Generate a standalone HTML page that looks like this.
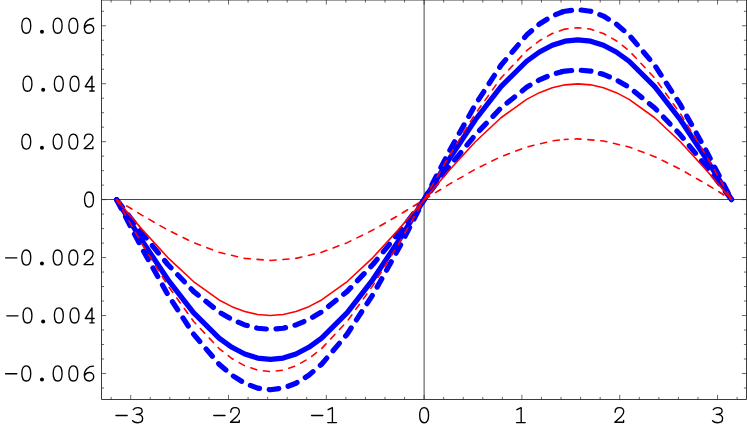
<!DOCTYPE html>
<html><head><meta charset="utf-8"><title>plot</title>
<style>html,body{margin:0;padding:0;background:#fff;}body{width:747px;height:431px;overflow:hidden;position:relative;font-family:"Liberation Mono",monospace;}</style>
</head><body>
<svg width="747" height="431" viewBox="0 0 747 431" style="position:absolute;left:0;top:0">
<rect x="0" y="0" width="747" height="431" fill="#fff"/>
<g stroke="#262626" stroke-width="0.9" fill="none" stroke-linecap="butt">
<path d="M101.5,0.0 H746.5 V399.5 H101.5 Z"/>
<path d="M101.5,199.5 H746.5 M424.12,0.0 V399.5" stroke="#333"/>
<path d="M111.16,399.5 v-2.6 M111.16,0.0 v2.6 M130.72,399.5 v-4.6 M130.72,0.0 v4.6 M150.28,399.5 v-2.6 M150.28,0.0 v2.6 M169.84,399.5 v-2.6 M169.84,0.0 v2.6 M189.40,399.5 v-2.6 M189.40,0.0 v2.6 M208.96,399.5 v-2.6 M208.96,0.0 v2.6 M228.52,399.5 v-4.6 M228.52,0.0 v4.6 M248.08,399.5 v-2.6 M248.08,0.0 v2.6 M267.64,399.5 v-2.6 M267.64,0.0 v2.6 M287.20,399.5 v-2.6 M287.20,0.0 v2.6 M306.76,399.5 v-2.6 M306.76,0.0 v2.6 M326.32,399.5 v-4.6 M326.32,0.0 v4.6 M345.88,399.5 v-2.6 M345.88,0.0 v2.6 M365.44,399.5 v-2.6 M365.44,0.0 v2.6 M385.00,399.5 v-2.6 M385.00,0.0 v2.6 M404.56,399.5 v-2.6 M404.56,0.0 v2.6 M424.12,399.5 v-4.6 M424.12,0.0 v4.6 M443.68,399.5 v-2.6 M443.68,0.0 v2.6 M463.24,399.5 v-2.6 M463.24,0.0 v2.6 M482.80,399.5 v-2.6 M482.80,0.0 v2.6 M502.36,399.5 v-2.6 M502.36,0.0 v2.6 M521.92,399.5 v-4.6 M521.92,0.0 v4.6 M541.48,399.5 v-2.6 M541.48,0.0 v2.6 M561.04,399.5 v-2.6 M561.04,0.0 v2.6 M580.60,399.5 v-2.6 M580.60,0.0 v2.6 M600.16,399.5 v-2.6 M600.16,0.0 v2.6 M619.72,399.5 v-4.6 M619.72,0.0 v4.6 M639.28,399.5 v-2.6 M639.28,0.0 v2.6 M658.84,399.5 v-2.6 M658.84,0.0 v2.6 M678.40,399.5 v-2.6 M678.40,0.0 v2.6 M697.96,399.5 v-2.6 M697.96,0.0 v2.6 M717.52,399.5 v-4.6 M717.52,0.0 v4.6 M737.08,399.5 v-2.6 M737.08,0.0 v2.6 M101.5,387.96 h2.6 M746.5,387.96 h-2.6 M101.5,373.47 h4.6 M746.5,373.47 h-4.6 M101.5,358.98 h2.6 M746.5,358.98 h-2.6 M101.5,344.50 h2.6 M746.5,344.50 h-2.6 M101.5,330.01 h2.6 M746.5,330.01 h-2.6 M101.5,315.52 h4.6 M746.5,315.52 h-4.6 M101.5,301.03 h2.6 M746.5,301.03 h-2.6 M101.5,286.55 h2.6 M746.5,286.55 h-2.6 M101.5,272.06 h2.6 M746.5,272.06 h-2.6 M101.5,257.57 h4.6 M746.5,257.57 h-4.6 M101.5,243.08 h2.6 M746.5,243.08 h-2.6 M101.5,228.59 h2.6 M746.5,228.59 h-2.6 M101.5,214.11 h2.6 M746.5,214.11 h-2.6 M101.5,199.62 h4.6 M746.5,199.62 h-4.6 M101.5,185.13 h2.6 M746.5,185.13 h-2.6 M101.5,170.65 h2.6 M746.5,170.65 h-2.6 M101.5,156.16 h2.6 M746.5,156.16 h-2.6 M101.5,141.67 h4.6 M746.5,141.67 h-4.6 M101.5,127.18 h2.6 M746.5,127.18 h-2.6 M101.5,112.70 h2.6 M746.5,112.70 h-2.6 M101.5,98.21 h2.6 M746.5,98.21 h-2.6 M101.5,83.72 h4.6 M746.5,83.72 h-4.6 M101.5,69.23 h2.6 M746.5,69.23 h-2.6 M101.5,54.75 h2.6 M746.5,54.75 h-2.6 M101.5,40.26 h2.6 M746.5,40.26 h-2.6 M101.5,25.77 h4.6 M746.5,25.77 h-4.6 M101.5,11.28 h2.6 M746.5,11.28 h-2.6" stroke-width="0.7"/>
</g>
<path d="M116.60,199.65 L142.23,241.01 L167.85,279.55 L193.48,312.65 L219.10,338.04 L231.91,347.29 L244.73,354.01 L257.54,358.09 L270.35,359.45 L283.16,358.09 L295.98,354.01 L308.79,347.29 L321.60,338.04 L347.23,312.65 L372.85,279.55 L398.48,241.01 L424.10,199.65 L449.72,158.29 L475.35,119.75 L500.97,86.65 L526.60,61.26 L539.41,52.01 L552.22,45.29 L565.04,41.21 L577.85,39.85 L590.66,41.21 L603.47,45.29 L616.29,52.01 L629.10,61.26 L654.72,86.65 L680.35,119.75 L705.97,158.29 L731.60,199.65" fill="none" stroke="#0000ff" stroke-width="5.2" stroke-linecap="round" stroke-linejoin="round"/>
<path d="M116.60,199.65 L142.23,248.84 L167.85,294.68 L193.48,334.04 L219.10,364.24 L231.91,375.24 L244.73,383.23 L257.54,388.08 L270.35,389.71 L283.16,388.08 L295.98,383.23 L308.79,375.24 L321.60,364.24 L347.23,334.04 L372.85,294.68 L398.48,248.84 L424.10,199.65 L449.72,150.46 L475.35,104.62 L500.97,65.26 L526.60,35.06 L539.41,24.06 L552.22,16.07 L562.00,12.08" fill="none" stroke="#0000ff" stroke-width="5.2" stroke-linecap="round" stroke-linejoin="round" stroke-dasharray="9.7 9.68" stroke-dashoffset="0"/>
<path d="M562.00,12.08 L565.04,11.22 L577.85,9.59 L590.66,11.22 L603.47,16.07 L616.29,24.06 L629.10,35.06 L654.72,65.26 L680.35,104.62 L705.97,150.46 L731.60,199.65" fill="none" stroke="#0000ff" stroke-width="5.2" stroke-linecap="round" stroke-linejoin="round" stroke-dasharray="9.7 9.68" stroke-dashoffset="0"/>
<path d="M116.60,199.65 L142.23,233.22 L167.85,264.50 L193.48,291.36 L219.10,311.97 L231.91,319.47 L244.73,324.93 L257.54,328.24 L270.35,329.35 L283.16,328.24 L295.98,324.93 L308.79,319.47 L321.60,311.97 L347.23,291.36 L372.85,264.50 L398.48,233.22 L424.10,199.65 L449.72,166.08 L475.35,134.80 L500.97,107.94 L526.60,87.33 L539.41,79.83 L552.22,74.37 L562.00,71.65" fill="none" stroke="#0000ff" stroke-width="5.2" stroke-linecap="round" stroke-linejoin="round" stroke-dasharray="9.7 9.68" stroke-dashoffset="0"/>
<path d="M562.00,71.65 L565.04,71.06 L577.85,69.95 L590.66,71.06 L603.47,74.37 L616.29,79.83 L629.10,87.33 L654.72,107.94 L680.35,134.80 L705.97,166.08 L731.60,199.65" fill="none" stroke="#0000ff" stroke-width="5.2" stroke-linecap="round" stroke-linejoin="round" stroke-dasharray="9.7 9.68" stroke-dashoffset="0"/>
<path d="M116.60,199.65 L142.23,229.62 L167.85,257.55 L193.48,281.53 L219.10,299.94 L231.91,306.64 L244.73,311.50 L257.54,314.46 L270.35,315.45 L283.16,314.46 L295.98,311.50 L308.79,306.64 L321.60,299.94 L347.23,281.53 L372.85,257.55 L398.48,229.62 L424.10,199.65 L449.72,169.68 L475.35,141.75 L500.97,117.77 L526.60,99.36 L539.41,92.66 L552.22,87.80 L565.04,84.84 L577.85,83.85 L590.66,84.84 L603.47,87.80 L616.29,92.66 L629.10,99.36 L654.72,117.77 L680.35,141.75 L705.97,169.68 L731.60,199.65" fill="none" stroke="#ff0000" stroke-width="1.6" stroke-linecap="round" stroke-linejoin="round"/>
<path d="M116.60,199.65 L142.23,244.16 L167.85,285.63 L193.48,321.25 L219.10,348.57 L231.91,358.52 L244.73,365.75 L257.54,370.14 L270.35,371.61 L283.16,370.14 L295.98,365.75 L308.79,358.52 L321.60,348.57 L347.23,321.25 L372.85,285.63 L398.48,244.16 L424.10,199.65 L449.72,155.14 L475.35,113.67 L500.97,78.05 L526.60,50.73 L539.41,40.78 L552.22,33.55 L564.30,29.33" fill="none" stroke="#ff0000" stroke-width="1.6" stroke-linecap="round" stroke-linejoin="round" stroke-dasharray="6.1 6.84" stroke-dashoffset="1.1"/>
<path d="M564.30,29.33 L565.04,29.16 L577.85,27.69 L590.66,29.16 L603.47,33.55 L616.29,40.78 L629.10,50.73 L654.72,78.05 L680.35,113.67 L705.97,155.14 L731.60,199.65" fill="none" stroke="#ff0000" stroke-width="1.6" stroke-linecap="round" stroke-linejoin="round" stroke-dasharray="6.1 6.84" stroke-dashoffset="2.3"/>
<path d="M116.60,199.65 L142.23,215.38 L167.85,230.05 L193.48,242.64 L219.10,252.30 L244.73,258.37 L270.35,260.44 L295.98,258.37 L321.60,252.30 L347.23,242.64 L372.85,230.05 L398.48,215.38 L424.10,199.65 L449.72,183.92 L475.35,169.25 L500.97,156.66 L526.60,147.00 L552.22,140.93 L564.30,139.44" fill="none" stroke="#ff0000" stroke-width="1.6" stroke-linecap="round" stroke-linejoin="round" stroke-dasharray="6.1 6.85" stroke-dashoffset="1.15"/>
<path d="M564.30,139.44 L577.85,138.86 L603.47,140.93 L629.10,147.00 L654.72,156.66 L680.35,169.25 L705.97,183.92 L731.60,199.65" fill="none" stroke="#ff0000" stroke-width="1.6" stroke-linecap="round" stroke-linejoin="round" stroke-dasharray="6.1 6.85" stroke-dashoffset="2.3"/>
<g fill="none" stroke="#000" stroke-width="1.35" stroke-linecap="round" stroke-linejoin="round">
<g transform="translate(120.98,407.60)"><path d="M-5.0,7.9 H6.2"/></g><g transform="translate(137.56,407.60)"><path d="M-4.3,2.0 C-3.2,0.7 -1.8,0 0,0 C2.6,0 4.6,1.3 4.6,3.5 C4.6,5.6 2.6,6.8 -1.2,6.8 C2.6,6.8 5.1,8.3 5.1,10.9 C5.1,13.5 2.9,15.1 0,15.1 C-2,15.1 -3.8,14.4 -5,13.1"/></g>
<g transform="translate(218.78,407.60)"><path d="M-5.0,7.9 H6.2"/></g><g transform="translate(235.36,407.60)"><path d="M-4.6,4.6 C-4.6,1.8 -2.8,0 -0.3,0 C2.2,0 4.0,1.7 4.0,4.1 C4.0,6.2 3.0,7.4 1.2,9.1 L-4.9,14.6 H3.9 V12.9"/></g>
<g transform="translate(316.58,407.60)"><path d="M-5.0,7.9 H6.2"/></g><g transform="translate(333.16,407.60)"><path d="M-5.0,2.1 L-0.75,0.1 V15 M-5.4,15 H3.3"/></g>
<g transform="translate(424.12,407.60)"><path d="M0,0 C2.80,0 4.45,2.79 4.45,7.55 C4.45,12.31 2.80,15.1 0,15.1 C-2.80,15.1 -4.45,12.31 -4.45,7.55 C-4.45,2.79 -2.80,0 0,0 Z"/></g>
<g transform="translate(521.92,407.60)"><path d="M-5.0,2.1 L-0.75,0.1 V15 M-5.4,15 H3.3"/></g>
<g transform="translate(619.72,407.60)"><path d="M-4.6,4.6 C-4.6,1.8 -2.8,0 -0.3,0 C2.2,0 4.0,1.7 4.0,4.1 C4.0,6.2 3.0,7.4 1.2,9.1 L-4.9,14.6 H3.9 V12.9"/></g>
<g transform="translate(717.52,407.60)"><path d="M-4.3,2.0 C-3.2,0.7 -1.8,0 0,0 C2.6,0 4.6,1.3 4.6,3.5 C4.6,5.6 2.6,6.8 -1.2,6.8 C2.6,6.8 5.1,8.3 5.1,10.9 C5.1,13.5 2.9,15.1 0,15.1 C-2,15.1 -3.8,14.4 -5,13.1"/></g>
<g transform="translate(10.60,365.87)"><path d="M-5.0,7.9 H6.2"/></g><g transform="translate(26.28,365.87)"><path d="M0,0 C2.80,0 4.45,2.79 4.45,7.55 C4.45,12.31 2.80,15.1 0,15.1 C-2.80,15.1 -4.45,12.31 -4.45,7.55 C-4.45,2.79 -2.80,0 0,0 Z"/></g><g transform="translate(41.96,365.87)"><circle cx="0" cy="13.6" r="2.0" fill="#000" stroke="none"/></g><g transform="translate(57.64,365.87)"><path d="M0,0 C2.80,0 4.45,2.79 4.45,7.55 C4.45,12.31 2.80,15.1 0,15.1 C-2.80,15.1 -4.45,12.31 -4.45,7.55 C-4.45,2.79 -2.80,0 0,0 Z"/></g><g transform="translate(73.32,365.87)"><path d="M0,0 C2.80,0 4.45,2.79 4.45,7.55 C4.45,12.31 2.80,15.1 0,15.1 C-2.80,15.1 -4.45,12.31 -4.45,7.55 C-4.45,2.79 -2.80,0 0,0 Z"/></g><g transform="translate(89.00,365.87)"><path d="M4.5,0.3 C0,0.1 -4.7,3.4 -4.7,9.5 C-4.7,13.4 -2.5,15.1 0.2,15.1 C2.8,15.1 4.7,13.3 4.7,10.8 C4.7,8.3 2.9,6.6 0.4,6.6 C-1.8,6.6 -3.9,8.0 -4.6,10.6"/></g>
<g transform="translate(11.80,307.92)"><path d="M-5.0,7.9 H6.2"/></g><g transform="translate(27.48,307.92)"><path d="M0,0 C2.80,0 4.45,2.79 4.45,7.55 C4.45,12.31 2.80,15.1 0,15.1 C-2.80,15.1 -4.45,12.31 -4.45,7.55 C-4.45,2.79 -2.80,0 0,0 Z"/></g><g transform="translate(43.16,307.92)"><circle cx="0" cy="13.6" r="2.0" fill="#000" stroke="none"/></g><g transform="translate(58.84,307.92)"><path d="M0,0 C2.80,0 4.45,2.79 4.45,7.55 C4.45,12.31 2.80,15.1 0,15.1 C-2.80,15.1 -4.45,12.31 -4.45,7.55 C-4.45,2.79 -2.80,0 0,0 Z"/></g><g transform="translate(74.52,307.92)"><path d="M0,0 C2.80,0 4.45,2.79 4.45,7.55 C4.45,12.31 2.80,15.1 0,15.1 C-2.80,15.1 -4.45,12.31 -4.45,7.55 C-4.45,2.79 -2.80,0 0,0 Z"/></g><g transform="translate(90.20,307.92)"><path d="M1.8,14.9 V0 L-4.95,10.6 H3.95 M-0.4,14.9 H3.95"/></g>
<g transform="translate(10.60,249.97)"><path d="M-5.0,7.9 H6.2"/></g><g transform="translate(26.28,249.97)"><path d="M0,0 C2.80,0 4.45,2.79 4.45,7.55 C4.45,12.31 2.80,15.1 0,15.1 C-2.80,15.1 -4.45,12.31 -4.45,7.55 C-4.45,2.79 -2.80,0 0,0 Z"/></g><g transform="translate(41.96,249.97)"><circle cx="0" cy="13.6" r="2.0" fill="#000" stroke="none"/></g><g transform="translate(57.64,249.97)"><path d="M0,0 C2.80,0 4.45,2.79 4.45,7.55 C4.45,12.31 2.80,15.1 0,15.1 C-2.80,15.1 -4.45,12.31 -4.45,7.55 C-4.45,2.79 -2.80,0 0,0 Z"/></g><g transform="translate(73.32,249.97)"><path d="M0,0 C2.80,0 4.45,2.79 4.45,7.55 C4.45,12.31 2.80,15.1 0,15.1 C-2.80,15.1 -4.45,12.31 -4.45,7.55 C-4.45,2.79 -2.80,0 0,0 Z"/></g><g transform="translate(89.00,249.97)"><path d="M-4.6,4.6 C-4.6,1.8 -2.8,0 -0.3,0 C2.2,0 4.0,1.7 4.0,4.1 C4.0,6.2 3.0,7.4 1.2,9.1 L-4.9,14.6 H3.9 V12.9"/></g>
<g transform="translate(89.00,192.02)"><path d="M0,0 C2.80,0 4.45,2.79 4.45,7.55 C4.45,12.31 2.80,15.1 0,15.1 C-2.80,15.1 -4.45,12.31 -4.45,7.55 C-4.45,2.79 -2.80,0 0,0 Z"/></g>
<g transform="translate(26.28,134.07)"><path d="M0,0 C2.80,0 4.45,2.79 4.45,7.55 C4.45,12.31 2.80,15.1 0,15.1 C-2.80,15.1 -4.45,12.31 -4.45,7.55 C-4.45,2.79 -2.80,0 0,0 Z"/></g><g transform="translate(41.96,134.07)"><circle cx="0" cy="13.6" r="2.0" fill="#000" stroke="none"/></g><g transform="translate(57.64,134.07)"><path d="M0,0 C2.80,0 4.45,2.79 4.45,7.55 C4.45,12.31 2.80,15.1 0,15.1 C-2.80,15.1 -4.45,12.31 -4.45,7.55 C-4.45,2.79 -2.80,0 0,0 Z"/></g><g transform="translate(73.32,134.07)"><path d="M0,0 C2.80,0 4.45,2.79 4.45,7.55 C4.45,12.31 2.80,15.1 0,15.1 C-2.80,15.1 -4.45,12.31 -4.45,7.55 C-4.45,2.79 -2.80,0 0,0 Z"/></g><g transform="translate(89.00,134.07)"><path d="M-4.6,4.6 C-4.6,1.8 -2.8,0 -0.3,0 C2.2,0 4.0,1.7 4.0,4.1 C4.0,6.2 3.0,7.4 1.2,9.1 L-4.9,14.6 H3.9 V12.9"/></g>
<g transform="translate(27.48,76.12)"><path d="M0,0 C2.80,0 4.45,2.79 4.45,7.55 C4.45,12.31 2.80,15.1 0,15.1 C-2.80,15.1 -4.45,12.31 -4.45,7.55 C-4.45,2.79 -2.80,0 0,0 Z"/></g><g transform="translate(43.16,76.12)"><circle cx="0" cy="13.6" r="2.0" fill="#000" stroke="none"/></g><g transform="translate(58.84,76.12)"><path d="M0,0 C2.80,0 4.45,2.79 4.45,7.55 C4.45,12.31 2.80,15.1 0,15.1 C-2.80,15.1 -4.45,12.31 -4.45,7.55 C-4.45,2.79 -2.80,0 0,0 Z"/></g><g transform="translate(74.52,76.12)"><path d="M0,0 C2.80,0 4.45,2.79 4.45,7.55 C4.45,12.31 2.80,15.1 0,15.1 C-2.80,15.1 -4.45,12.31 -4.45,7.55 C-4.45,2.79 -2.80,0 0,0 Z"/></g><g transform="translate(90.20,76.12)"><path d="M1.8,14.9 V0 L-4.95,10.6 H3.95 M-0.4,14.9 H3.95"/></g>
<g transform="translate(26.28,18.17)"><path d="M0,0 C2.80,0 4.45,2.79 4.45,7.55 C4.45,12.31 2.80,15.1 0,15.1 C-2.80,15.1 -4.45,12.31 -4.45,7.55 C-4.45,2.79 -2.80,0 0,0 Z"/></g><g transform="translate(41.96,18.17)"><circle cx="0" cy="13.6" r="2.0" fill="#000" stroke="none"/></g><g transform="translate(57.64,18.17)"><path d="M0,0 C2.80,0 4.45,2.79 4.45,7.55 C4.45,12.31 2.80,15.1 0,15.1 C-2.80,15.1 -4.45,12.31 -4.45,7.55 C-4.45,2.79 -2.80,0 0,0 Z"/></g><g transform="translate(73.32,18.17)"><path d="M0,0 C2.80,0 4.45,2.79 4.45,7.55 C4.45,12.31 2.80,15.1 0,15.1 C-2.80,15.1 -4.45,12.31 -4.45,7.55 C-4.45,2.79 -2.80,0 0,0 Z"/></g><g transform="translate(89.00,18.17)"><path d="M4.5,0.3 C0,0.1 -4.7,3.4 -4.7,9.5 C-4.7,13.4 -2.5,15.1 0.2,15.1 C2.8,15.1 4.7,13.3 4.7,10.8 C4.7,8.3 2.9,6.6 0.4,6.6 C-1.8,6.6 -3.9,8.0 -4.6,10.6"/></g>
</g>
</svg>
</body></html>
